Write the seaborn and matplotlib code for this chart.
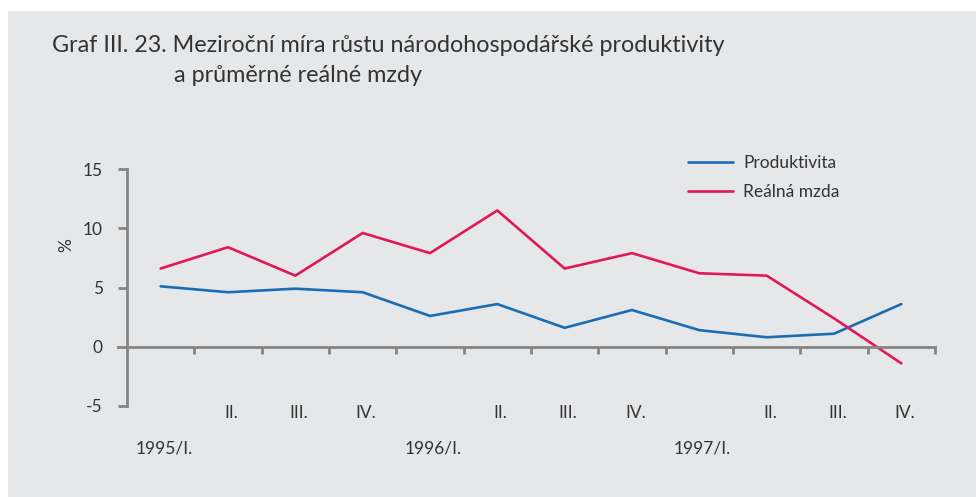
import matplotlib
matplotlib.use("Agg")
import matplotlib.pyplot as plt
import matplotlib.patches as mpatches
import matplotlib.transforms as mtransforms
from matplotlib.lines import Line2D
import seaborn as sns
import pandas as pd
import numpy as np

sns.set_theme(style="white")
plt.rcParams['font.family'] = ['Lato', 'DejaVu Sans']

quarters = ["1995/I.", "II.", "III.", "IV.", "1996/I.", "II.", "III.", "IV.",
            "1997/I.", "II.", "III.", "IV."]
produktivita = [5.1, 4.6, 4.9, 4.6, 2.6, 3.6, 1.6, 3.1, 1.4, 0.8, 1.1, 3.6]
realna_mzda = [6.6, 8.4, 6.0, 9.6, 7.9, 11.5, 6.6, 7.9, 6.2, 6.0, 2.4, -1.4]
series_names = ["Produktivita", "Reálná mzda"]
yticks = [-5, 0, 5, 10, 15]

pos = np.arange(1, len(quarters) + 1)
df = pd.DataFrame({
    "pos": np.concatenate([pos, pos]),
    "value": produktivita + realna_mzda,
    "series": [series_names[0]] * len(pos) + [series_names[1]] * len(pos),
})

txt = "#333333"
axc = "#858585"
bg = "#e6e7e9"
blue = "#1a6db3"
red = "#e0185a"

fig = plt.figure(figsize=(9.77, 4.97), dpi=100, facecolor="white")
fig.patches.append(mpatches.Rectangle((8 / 977, 0), 968 / 977, 486 / 497,
                                      transform=fig.transFigure, facecolor=bg,
                                      edgecolor="none", zorder=-10))
ax = fig.add_axes([127 / 977, 1 - 406 / 497, 808 / 977, 237 / 497])
ax.set_facecolor("none")

sns.lineplot(data=df, x="pos", y="value", hue="series", ax=ax,
             palette={series_names[0]: blue, series_names[1]: red},
             linewidth=1.9, legend=False)

ax.set_xlim(0.5, len(quarters) + 0.5)
ax.set_ylim(-5, 15)
ax.set_yticks(yticks)
ax.set_yticklabels([str(v) for v in yticks], color=txt, fontsize=12.5)
ax.tick_params(axis="y", left=True, length=6.5, width=2, color=axc, pad=11,
               direction="out")

for s in ["top", "right"]:
    ax.spines[s].set_visible(False)
ax.spines["left"].set_color(axc)
ax.spines["left"].set_linewidth(2)
ax.spines["bottom"].set_position(("data", 0))
ax.spines["bottom"].set_color(axc)
ax.spines["bottom"].set_linewidth(2)
ax.spines["bottom"].set_bounds(0.5 - 0.13, len(quarters) + 0.5)
ax.set_xticks(np.arange(1.5, len(quarters) + 1.0, 1.0))
ax.set_xticklabels([])
ax.tick_params(axis="x", bottom=True, length=5, width=2, color=axc,
               direction="out")
ax.set_xlabel("")
ax.set_ylabel("%", color=txt, fontsize=12.5)
ax.yaxis.set_label_coords(-0.065, 0.68)

trans = mtransforms.blended_transform_factory(ax.transData, fig.transFigure)
for i, lab in enumerate(quarters):
    yy = 1 - 449 / 497 if "/" in lab else 1 - 413 / 497
    ax.text(pos[i] + 0.05, yy, lab, transform=trans, ha="center", va="center",
            color=txt, fontsize=12.5)

handles = [Line2D([], [], color=blue, lw=1.9),
           Line2D([], [], color=red, lw=1.9)]
leg = fig.legend(handles, series_names, loc="upper left",
                 bbox_to_anchor=(672 / 977, 1 - 139 / 497), frameon=False,
                 fontsize=12.5, handlelength=2.6, labelspacing=0.75,
                 handletextpad=0.6)
for t in leg.get_texts():
    t.set_color(txt)

fig.text(52 / 977, 1 - 46 / 497,
         "Graf III. 23. Meziroční míra růstu národohospodářské produktivity",
         color=txt, fontsize=16.8, ha="left", va="center")
fig.text(174 / 977, 1 - 76 / 497, "a průměrné reálné mzdy",
         color=txt, fontsize=16.8, ha="left", va="center")

fig.savefig("out.png", dpi=100, facecolor="white")
